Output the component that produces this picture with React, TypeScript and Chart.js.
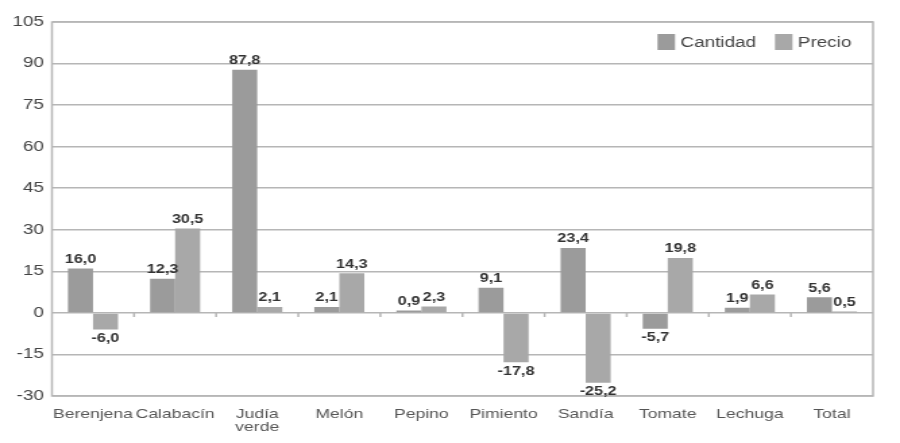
import { useEffect, useRef } from "react";
import { Chart, registerables } from "chart.js";

Chart.register(...registerables);

// ---- data ----
const categories: (string | string[])[] = [
  "Berenjena",
  "Calabacín",
  ["Judía", "verde"],
  "Melón",
  "Pepino",
  "Pimiento",
  "Sandía",
  "Tomate",
  "Lechuga",
  "Total",
];
const cantidad = [16.0, 12.3, 87.8, 2.1, 0.9, 9.1, 23.4, -5.7, 1.9, 5.6];
const precio = [-6.0, 30.5, 2.1, 14.3, 2.3, -17.8, -25.2, 19.8, 6.6, 0.5];
const seriesNames = ["Cantidad", "Precio"];
const yMin = -30;
const yMax = 105;
const yStep = 15;

// ---- layout / style ----
const W = 900;
const H = 443;
const STRETCH = 1.35;
const IW = Math.round(W / STRETCH);
const FONT = '"Liberation Sans", Arial, Helvetica, sans-serif';
const colors = ["#9b9b9b", "#a8a8a8"];
const gridColor = "#b6b6b6";

const fmt = (v: number) => v.toFixed(1).replace(".", ",");

const frameAndTicks = {
  id: "frameAndTicks",
  beforeDatasetsDraw(chart: any) {
    const { ctx, chartArea, scales } = chart;
    ctx.save();
    ctx.strokeStyle = gridColor;
    ctx.lineWidth = 1.5;
    ctx.strokeRect(chartArea.left, chartArea.top, chartArea.right - chartArea.left, chartArea.bottom - chartArea.top);
    const y0 = scales.y.getPixelForValue(0);
    const n = categories.length;
    const cw = (chartArea.right - chartArea.left) / n;
    ctx.beginPath();
    for (let i = 1; i < n; i++) {
      const x = scales.x.getPixelForValue(i) - cw / 2;
      ctx.moveTo(x, y0);
      ctx.lineTo(x, y0 + 4);
    }
    ctx.stroke();
    ctx.restore();
  },
};

const valueLabels = {
  id: "valueLabels",
  afterDatasetsDraw(chart: any) {
    const { ctx } = chart;
    ctx.save();
    ctx.font = `bold 12px ${FONT}`;
    ctx.fillStyle = "#333333";
    ctx.textAlign = "center";
    chart.data.datasets.forEach((ds: any, di: number) => {
      const meta = chart.getDatasetMeta(di);
      meta.data.forEach((el: any, i: number) => {
        const v = ds.data[i] as number;
        if (v >= 0) {
          ctx.textBaseline = "bottom";
          ctx.fillText(fmt(v), el.x, el.y - 3);
        } else {
          ctx.textBaseline = "top";
          ctx.fillText(fmt(v), el.x, el.y + 3);
        }
      });
    });
    ctx.restore();
  },
};

const innerLegend = {
  id: "innerLegend",
  afterDraw(chart: any) {
    const { ctx, chartArea } = chart;
    ctx.save();
    ctx.font = `14px ${FONT}`;
    ctx.textBaseline = "middle";
    ctx.textAlign = "left";
    const boxW = 13;
    const boxH = 16;
    const gapBoxText = 4;
    const gapItems = 14;
    const items = chart.data.datasets.map((ds: any) => ({
      label: ds.label as string,
      color: ds.backgroundColor as string,
      w: ctx.measureText(ds.label).width,
    }));
    const total =
      items.reduce((s: number, it: any) => s + boxW + gapBoxText + it.w, 0) + gapItems * (items.length - 1);
    let x = chartArea.right - 16 - total;
    const cy = chartArea.top + 20;
    items.forEach((it: any) => {
      ctx.fillStyle = it.color;
      ctx.fillRect(x, cy - boxH / 2, boxW, boxH);
      x += boxW + gapBoxText;
      ctx.fillStyle = "#444444";
      ctx.fillText(it.label, x, cy + 1);
      x += it.w + gapItems;
    });
    ctx.restore();
  },
};

export default function App() {
  const ref = useRef<HTMLCanvasElement | null>(null);

  useEffect(() => {
    document.body.style.margin = "0";
    if (!ref.current) return;
    const chart = new Chart(ref.current, {
      type: "bar",
      data: {
        labels: categories as any,
        datasets: [
          {
            label: seriesNames[0],
            data: cantidad,
            backgroundColor: colors[0],
            borderWidth: 0,
            categoryPercentage: 0.61,
            barPercentage: 1.0,
          },
          {
            label: seriesNames[1],
            data: precio,
            backgroundColor: colors[1],
            borderWidth: 0,
            categoryPercentage: 0.61,
            barPercentage: 1.0,
          },
        ],
      },
      options: {
        responsive: false,
        animation: false,
        devicePixelRatio: 1,
        layout: { padding: { left: 0, right: IW - 647, top: 22, bottom: 0 } },
        plugins: {
          legend: { display: false },
          tooltip: { enabled: false },
        },
        scales: {
          x: {
            grid: { display: false },
            border: { display: false },
            ticks: {
              autoSkip: false,
              maxRotation: 0,
              minRotation: 0,
              padding: 4,
              color: "#555555",
              font: { family: FONT, size: 13, lineHeight: 1.0 },
            },
            afterFit(scale: any) {
              scale.height = 47;
            },
          },
          y: {
            min: yMin,
            max: yMax,
            grid: { color: gridColor, lineWidth: 1.5, drawTicks: false },
            border: { display: false },
            ticks: {
              stepSize: yStep,
              padding: 6,
              color: "#444444",
              font: { family: FONT, size: 14 },
              callback: (v: any) => String(v),
            },
            afterFit(scale: any) {
              scale.width = 38.5;
            },
          },
        },
      },
      plugins: [frameAndTicks, valueLabels, innerLegend],
    });
    return () => chart.destroy();
  }, []);

  return (
    <div style={{ width: W, height: H }}>
      <canvas ref={ref} width={IW} height={H} style={{ width: W, height: H, display: "block" }} />
    </div>
  );
}
